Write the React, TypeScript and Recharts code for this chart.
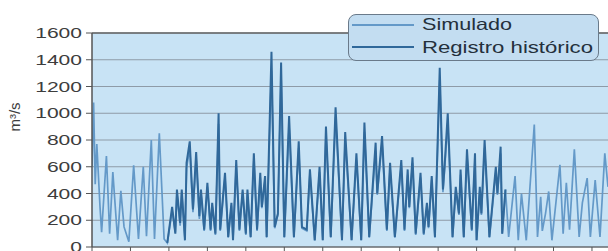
import React from "react";
import { LineChart, Line, XAxis, YAxis, CartesianGrid, ReferenceLine } from "recharts";

// x position in chart units (24 units per axis tick), flow in m³/s
const simuladoU = [0, 1, 2, 3, 5, 6, 9, 11, 13, 16, 18, 20, 23, 26, 29, 32, 34, 37, 39, 42, 45, 47,
  50, 52, 53, 55, 56, 58, 59, 61, 63, 65, 67, 68, 70, 72, 74, 75, 77, 79, 80, 83, 85, 87, 88, 90, 92, 94, 96, 97, 99,
  101, 103, 105, 106, 108, 109, 112, 114, 116, 118, 120, 123, 126, 129, 131, 134, 136, 139, 142, 144, 146, 149,
  152, 156, 158, 162, 165, 168, 170, 173, 177, 178, 181, 184, 186, 189, 193, 195, 197, 198, 200, 202, 205, 207,
  209, 210, 212, 214, 217, 219, 220, 222, 225, 227, 229, 230, 232, 234, 237, 239, 240, 242, 243, 245, 248, 252,
  253, 255, 256, 258,
  260, 264, 266, 268, 271, 276, 278, 280, 281, 283, 285, 287, 292, 294, 296, 298, 301, 304, 306, 309, 311, 314, 317, 320, 322];
const simuladoQ = [600, 1080, 470, 770, 300, 110, 680, 100, 560, 50, 420, 150, 40, 610, 60, 600, 80, 800, 60, 850, 60, 30,
  270, 110, 400, 160, 410, 60, 590, 740, 260, 660, 210, 400, 120, 450, 120, 310, 90, 920, 120, 520, 70, 310, 60, 600, 120, 410, 90, 400, 70,
  650, 120, 520, 290, 500, 70, 1320, 140, 240, 1280, 70, 900, 70, 740, 140, 120, 550, 50, 560, 50, 840, 70,
  970, 50, 800, 50, 650, 50, 860, 70, 720, 390, 780, 120, 590, 70, 610, 120, 540, 290, 630, 90, 520, 90,
  310, 140, 500, 70, 1250, 410, 570, 930, 70, 420, 240, 540, 70, 680, 120, 650, 50, 420, 240, 740, 70, 560,
  390, 700, 100, 430,
  75, 530, 50, 400, 50, 915, 75, 375, 120, 250, 415, 50, 615, 100, 480, 130, 730, 75, 330, 515, 75, 500, 75, 700, 450];

const registroU = [47, 50, 52, 53, 55, 56, 58, 59, 61, 63, 65, 67, 68, 70, 72, 74, 75, 77, 79, 80, 83, 85, 87, 88, 90, 92, 94, 96, 97, 99,
  101, 103, 105, 106, 108, 109, 112, 114, 116, 118, 120, 123, 126, 129, 131, 134, 136, 139, 142, 144, 146, 149,
  152, 156, 158, 162, 165, 168, 170, 173, 177, 178, 181, 184, 186, 189, 193, 195, 197, 198, 200, 202, 205, 207,
  209, 210, 212, 214, 217, 219, 220, 222, 225, 227, 229, 230, 232, 234, 237, 239, 240, 242, 243, 245, 248, 252,
  253, 255, 256, 258];
const registroQ = [30, 300, 100, 430, 180, 430, 50, 630, 790, 280, 710, 230, 430, 130, 480, 130, 330, 100, 1000, 130, 555, 75, 330, 50, 650, 130, 430, 100, 430, 75,
  700, 130, 555, 300, 530, 75, 1460, 150, 250, 1380, 75, 980, 75, 790, 150, 130, 580, 50, 600, 50, 900, 75,
  1045, 50, 860, 50, 700, 50, 930, 75, 780, 400, 830, 130, 630, 75, 650, 130, 580, 300, 670, 100, 555, 100,
  330, 150, 530, 75, 1340, 430, 600, 1000, 75, 450, 250, 580, 75, 730, 130, 700, 50, 450, 250, 800, 75, 600,
  400, 750, 100, 430];

const yTicks = [0, 200, 400, 600, 800, 1000, 1200, 1400, 1600];
const xTicks = [0, 24, 48, 72, 96, 120, 144, 168, 192, 216, 240, 264, 288, 312];
const seriesNames = ["Simulado", "Registro histórico"];
const yLabel = "m³/s";

const simuladoData = simuladoU.map((u, i) => ({ u, q: simuladoQ[i] }));
const registroData = registroU.map((u, i) => ({ u, q: registroQ[i] }));

const LIGHT = "#6499c8";
const DARK = "#30689a";
const BG = "#c8e3f5";

const YTick = (props: any) => {
  const { x, y, payload } = props;
  const s = String(payload.value);
  return (
    <text x={x} y={y} dy="0.36em" textAnchor="end" fontSize={14} fill="#3d3d3d"
      fontFamily="Liberation Sans, Arial, sans-serif" textLength={s.length * 11.7} lengthAdjust="spacingAndGlyphs">
      {s}
    </text>
  );
};

const NoTick = () => <g />;

const LegendBox = () => (
  <div style={{ position: "absolute", left: 348, top: 14, width: 251, height: 47, boxSizing: "border-box",
    background: "#c3ddf1", border: "1.5px solid #6a7a8a", borderRadius: 8 }}>
    <svg width={251} height={47} style={{ position: "absolute", left: -1.5, top: -1.5 }}>
      <line x1={4} x2={66} y1={11} y2={11} stroke={LIGHT} strokeWidth={1.8} />
      <line x1={4} x2={66} y1={33} y2={33} stroke={DARK} strokeWidth={2} />
      <text x={74} y={16} fontSize={16.5} fill="#24303c" fontFamily="Liberation Sans, Arial, sans-serif"
        textLength={90} lengthAdjust="spacingAndGlyphs">{seriesNames[0]}</text>
      <text x={74} y={38.5} fontSize={16.5} fill="#24303c" fontFamily="Liberation Sans, Arial, sans-serif"
        textLength={171} lengthAdjust="spacingAndGlyphs">{seriesNames[1]}</text>
    </svg>
  </div>
);

export default function App() {
  return (
    <div style={{ position: "absolute", left: 0, top: 0, width: 608, height: 251, background: "#fff", overflow: "hidden" }}>
      <LineChart width={608} height={251} margin={{ top: 33, right: 0, bottom: 0, left: 0 }}>
        <CartesianGrid vertical={false} stroke="#8e9ba7" strokeWidth={1} fill={BG} />
        <XAxis type="number" dataKey="u" domain={[0, 322]} ticks={xTicks} allowDataOverflow interval={0}
          height={4} tickSize={4} tick={NoTick} stroke="#555" axisLine={{ stroke: "#555", strokeWidth: 1.2 }} />
        <YAxis type="number" domain={[0, 1600]} ticks={yTicks} width={92} tickSize={6} tickMargin={4} interval={0}
          tick={YTick} stroke="#555" axisLine={{ stroke: "#555", strokeWidth: 1.5 }} />
        <ReferenceLine y={1600} stroke="#666" strokeWidth={1.5} />
        <Line data={simuladoData} dataKey="q" type="linear" stroke={LIGHT} strokeWidth={1.7} dot={false} isAnimationActive={false} />
        <Line data={registroData} dataKey="q" type="linear" stroke={DARK} strokeWidth={2} dot={false} isAnimationActive={false} />
      </LineChart>
      <svg width={30} height={251} style={{ position: "absolute", left: 0, top: 0 }}>
        <text x={0} y={0} transform="translate(20,117) rotate(-90)" textAnchor="middle" fontSize={15}
          fill="#3d3d3d" fontFamily="Liberation Sans, Arial, sans-serif">{yLabel}</text>
      </svg>
      <LegendBox />
    </div>
  );
}
